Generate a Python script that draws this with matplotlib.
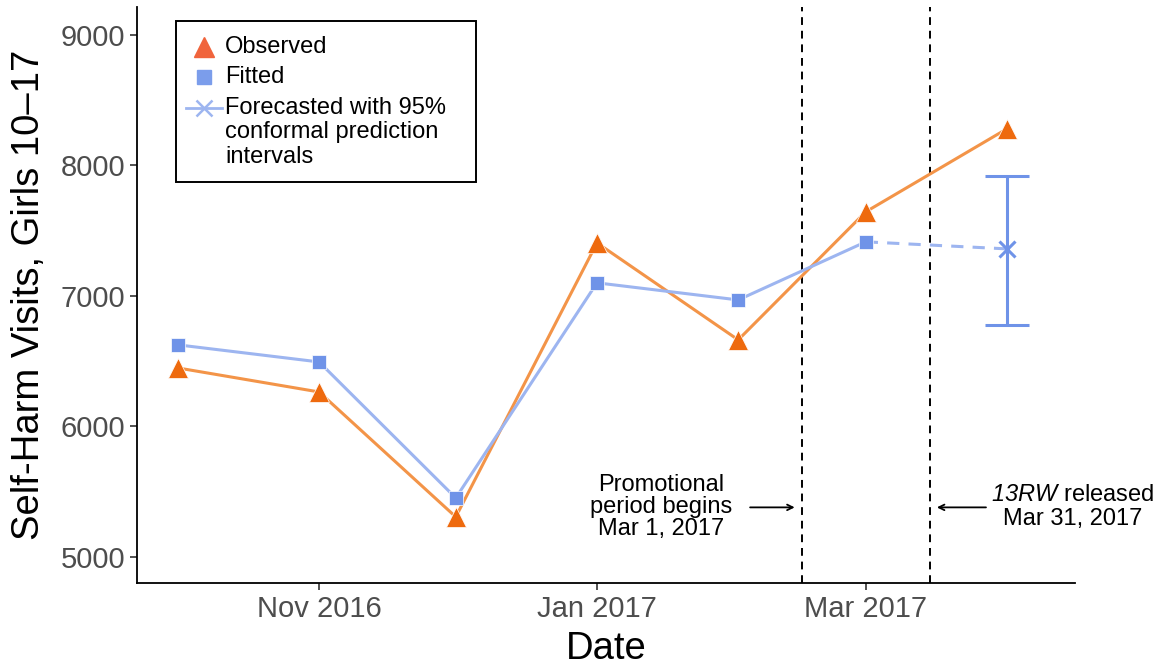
import matplotlib
matplotlib.use("Agg")
import matplotlib.pyplot as plt
import matplotlib.dates as mdates
from matplotlib.lines import Line2D
from matplotlib.patches import Rectangle
import datetime as dt

plt.rcParams['font.family'] = ['Liberation Sans', 'DejaVu Sans']
# math text is only used for the italic film title
plt.rcParams['mathtext.fontset'] = 'custom'
plt.rcParams['mathtext.it'] = 'Liberation Sans:italic'
plt.rcParams['mathtext.rm'] = 'Liberation Sans:italic'

# monthly self-harm visits, girls 10-17
months = ["2016-10-01", "2016-11-01", "2016-12-01", "2017-01-01",
          "2017-02-01", "2017-03-01", "2017-04-01"]
observed = [6448, 6264, 5307, 7406, 6663, 7644, 8280]
fitted = [6625, 6494, 5452, 7100, 6969, 7414]
forecast_month = "2017-04-01"
forecast = 7360
forecast_lo = 6778
forecast_hi = 7920
promo_line = "2017-02-15"
release_line = "2017-03-15"

dates = [dt.datetime.strptime(m, "%Y-%m-%d") for m in months]
fc_date = dt.datetime.strptime(forecast_month, "%Y-%m-%d")

c_obs_line = "#F39448"
c_obs_pt = "#EE6A0E"
c_fit_line = "#9DB5F0"
c_fit_pt = "#6F93E8"

fig = plt.figure(figsize=(11.6, 6.71), dpi=100)
ax = fig.add_axes([0.118, 0.131, 0.809, 0.859])

ax.plot(dates, observed, color=c_obs_line, lw=2.2, zorder=2)
ax.plot(dates, observed, ls="none", marker="^", ms=14, color=c_obs_pt,
        markeredgecolor="white", markeredgewidth=0.5, zorder=4)
ax.plot(dates[:len(fitted)], fitted, color=c_fit_line, lw=2.2, zorder=2)
ax.plot(dates[:len(fitted)], fitted, ls="none", marker="s", ms=10, color=c_fit_pt,
        markeredgecolor="white", markeredgewidth=0.5, zorder=4)

# forecast with interval
ax.plot([dates[len(fitted) - 1], fc_date], [fitted[-1], forecast],
        color=c_fit_line, lw=2.2, ls=(0, (4, 3)), zorder=2)
ax.errorbar([fc_date], [forecast],
            yerr=[[forecast - forecast_lo], [forecast_hi - forecast]],
            color=c_fit_pt, lw=2.2, capsize=16, capthick=2.2,
            marker="x", ms=12, mew=2.2, zorder=3)

# event lines
for d in [promo_line, release_line]:
    ax.axvline(dt.datetime.strptime(d, "%Y-%m-%d"), color="black",
               lw=1.4, ls=(0, (4, 3)), zorder=1)

ax.annotate("", xy=(dt.datetime(2017, 2, 14), 5380),
            xytext=(dt.datetime(2017, 2, 3), 5380),
            arrowprops=dict(arrowstyle="->", color="black", lw=1.3))
ax.text(dt.datetime(2017, 1, 15), 5380, "Promotional\nperiod begins\nMar 1, 2017",
        ha="center", va="center", fontsize=17, linespacing=1.0)

ax.annotate("", xy=(dt.datetime(2017, 3, 16), 5380),
            xytext=(dt.datetime(2017, 3, 28), 5380),
            arrowprops=dict(arrowstyle="->", color="black", lw=1.3))
ax.text(dt.datetime(2017, 4, 15, 12), 5475, r"$13RW$ released",
        ha="center", va="center", fontsize=17)
ax.text(dt.datetime(2017, 4, 15, 12), 5290, "Mar 31, 2017",
        ha="center", va="center", fontsize=17)

ax.set_xlim(dt.datetime(2016, 9, 22), dt.datetime(2017, 4, 16))
ax.set_ylim(4800, 9215)
ax.set_yticks([5000, 6000, 7000, 8000, 9000])
ax.xaxis.set_major_locator(mdates.MonthLocator(bymonth=[1, 3, 11]))
ax.xaxis.set_major_formatter(mdates.DateFormatter("%b %Y"))

for s in ["top", "right"]:
    ax.spines[s].set_visible(False)
for s in ["left", "bottom"]:
    ax.spines[s].set_linewidth(1.3)
ax.tick_params(axis="both", labelsize=21, labelcolor="#4D4D4D",
               color="#333333", length=5, width=1.2)

ax.set_xlabel("Date", fontsize=27.5, labelpad=6)
ax.set_ylabel("Self-Harm Visits, Girls 10\u201317", fontsize=27.5, labelpad=10)

# legend box, drawn in figure coordinates
box = Rectangle((0.1517, 0.7288), 0.2586, 0.2399, transform=fig.transFigure,
                facecolor="white", edgecolor="black", lw=1.4, zorder=5)
fig.patches.append(box)
fig.lines.append(Line2D([0.1759], [0.930], transform=fig.transFigure, ls="none",
                        marker="^", ms=14, color="#F0643C", zorder=6))
fig.lines.append(Line2D([0.1759], [0.8852], transform=fig.transFigure, ls="none",
                        marker="s", ms=10, color="#7B9DEB", zorder=6))
fig.lines.append(Line2D([0.1603, 0.1914], [0.839, 0.839], transform=fig.transFigure,
                        color=c_fit_line, lw=2, zorder=6))
fig.lines.append(Line2D([0.1759], [0.839], transform=fig.transFigure, ls="none",
                        marker="x", ms=12, mew=1.8, color=c_fit_line, zorder=6))
legend_labels = ["Observed", "Fitted", "Forecasted with 95%",
                 "conformal prediction", "intervals"]
legend_y = [0.930, 0.8852, 0.839, 0.8033, 0.766]
for lab, y in zip(legend_labels, legend_y):
    fig.text(0.194, y, lab, fontsize=17, va="center", ha="left", zorder=6)

fig.savefig("out.png", dpi=100)
